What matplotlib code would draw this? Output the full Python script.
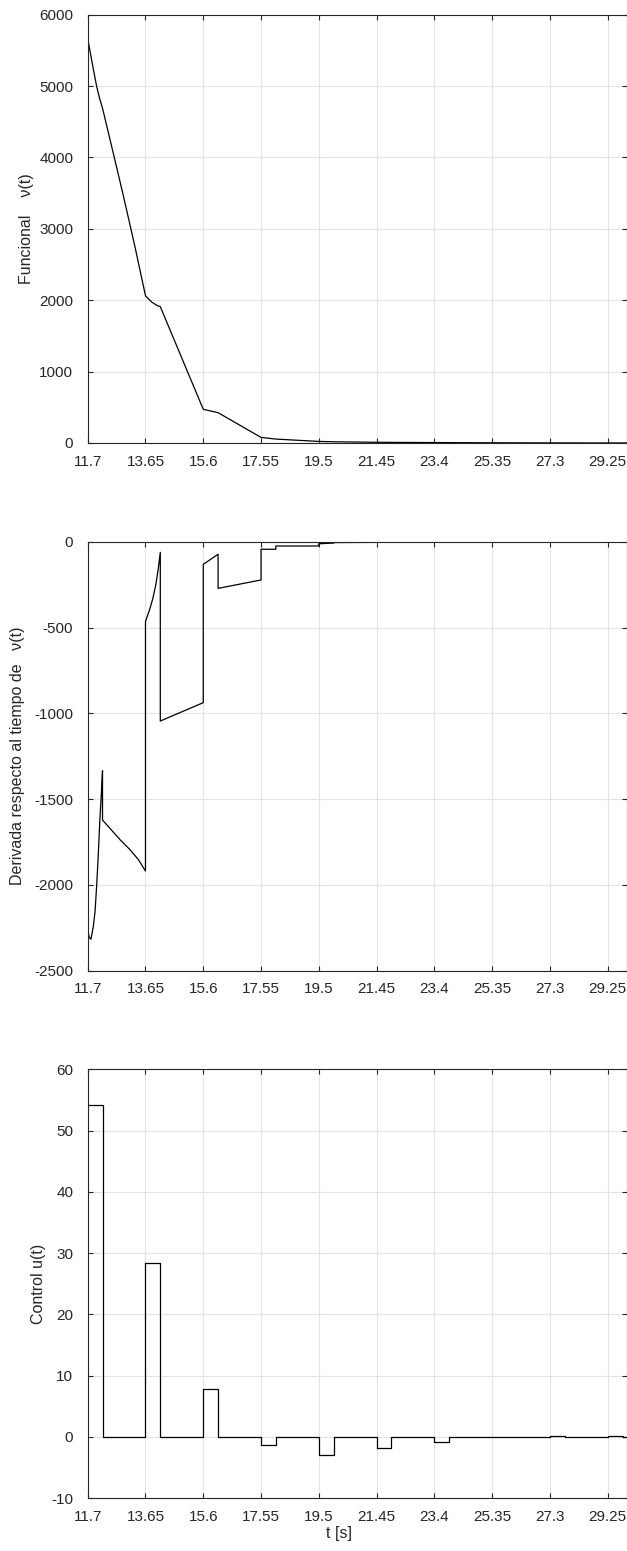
import matplotlib
matplotlib.use("Agg")
import matplotlib.pyplot as plt

plt.rcParams['font.family'] = ['Liberation Sans', 'DejaVu Sans']
plt.rcParams['axes.unicode_minus'] = False

# ---------------- data ----------------
x_ticks = [11.7, 13.65, 15.6, 17.55, 19.5, 21.45, 23.4, 25.35, 27.3, 29.25]
x_tick_labels = ["11.7", "13.65", "15.6", "17.55", "19.5", "21.45", "23.4", "25.35", "27.3", "29.25"]

# Functional v(t)
t_v = [11.7, 11.8, 11.9, 12.0, 12.1, 12.2, 12.5, 12.9, 13.3, 13.65, 13.75, 13.86, 13.95,
       14.05, 14.15, 15.6, 16.1, 17.55, 18.05, 19.5, 20.0, 21.45, 21.95, 23.4, 23.9,
       25.35, 27.3, 29.25, 29.9]
v = [5668, 5440, 5215, 5000, 4830, 4690, 4170, 3470, 2740, 2063, 2020, 1975, 1950,
     1925, 1910, 472, 425, 78, 55, 22, 17, 10, 8.5, 6, 5, 3, 1.5, 0.8, 0.6]

# Time derivative of v(t)
t_d = [11.7, 11.75, 11.81, 11.89, 11.95, 12.0, 12.05, 12.11, 12.16, 12.2,
       12.2, 12.5, 12.8, 13.1, 13.4, 13.65,
       13.65, 13.7, 13.8, 13.9, 14.0, 14.08, 14.15,
       14.15, 15.6,
       15.6, 16.1,
       16.1, 17.55,
       17.55, 18.05,
       18.05, 19.5,
       19.5, 20.0,
       20.0, 21.45,
       21.45, 21.95,
       21.95, 23.4,
       23.4, 23.9,
       23.9, 25.35, 25.35, 27.3, 29.9]
dv = [-2263, -2305, -2317, -2243, -2150, -2010, -1850, -1622, -1470, -1335,
      -1622, -1680, -1738, -1790, -1850, -1919,
      -466, -440, -390, -330, -250, -160, -62,
      -1045, -938,
      -132, -73,
      -272, -223,
      -44, -44,
      -25, -25,
      -12, -8,
      -5, -4,
      -3, -2.5,
      -2, -1.5,
      -1, -1,
      -0.8, -0.5, -0.4, -0.3, -0.2]

# Control u(t) (piecewise constant)
t_u = [11.7, 12.2, 13.65, 14.15, 15.6, 16.1, 17.55, 18.05, 19.5, 20.0, 21.45, 21.95,
       23.4, 23.9, 25.35, 25.85, 27.3, 27.8, 29.25, 29.75, 29.9]
u = [54.2, 0, 28.3, 0, 7.8, 0, -1.3, 0, -3.0, 0, -1.9, 0,
     -0.8, 0, -0.1, 0, 0.2, 0, 0.2, 0, 0]

ylabels = ["Funcional    \u03bd(t)", "Derivada respecto al tiempo de   \u03bd(t)", "Control u(t)"]
yticks_list = [list(range(0, 6001, 1000)), list(range(-2500, 1, 500)), list(range(-10, 61, 10))]
ylims = [(0, 6000), (-2500, 0), (-10, 60)]

# ---------------- figure ----------------
W, H = 627, 1551
fig = plt.figure(figsize=(W / 100, H / 100), dpi=100)

left = 87.7 / W
right = 1.0
boxes = [(14.7, 443.0), (541.7, 970.7), (1069.3, 1498.0)]
label_x = [(34 - 87.7) / 538.8, (25.5 - 87.7) / 538.8, (46 - 87.7) / 538.8]

spine_c = '#262626'
axes = []
for i, (top, bot) in enumerate(boxes):
    ax = fig.add_axes([left, 1 - bot / H, right - left, (bot - top) / H])
    axes.append(ax)
    ax.set_xlim(11.7, 29.9)
    ax.set_ylim(*ylims[i])
    ax.set_xticks(x_ticks)
    ax.set_xticklabels(x_tick_labels)
    ax.set_yticks(yticks_list[i])
    ax.grid(True, color='#e3e3e3', linewidth=0.8)
    ax.set_axisbelow(True)
    for s in ax.spines.values():
        s.set_color(spine_c)
        s.set_linewidth(0.8)
    ax.tick_params(axis='both', direction='in', length=3.6, width=0.8, color=spine_c,
                   labelsize=11, labelcolor=spine_c, top=True, right=True)
    ax.tick_params(axis='x', pad=8.3)
    ax.tick_params(axis='y', pad=10.4)
    ax.set_ylabel(ylabels[i], fontsize=11.5, color=spine_c)
    ax.yaxis.set_label_coords(label_x[i], 0.5)

axes[0].plot(t_v, v, color='black', linewidth=0.9)
axes[1].plot(t_d, dv, color='black', linewidth=0.9)
axes[2].step(t_u, u, where='post', color='black', linewidth=0.9)

axes[2].set_xlabel("t [s]", fontsize=11.5, color=spine_c)
axes[2].xaxis.set_label_coords((339 - 87.7) / 538.8, -0.066)

fig.savefig("out.png", dpi=100)
